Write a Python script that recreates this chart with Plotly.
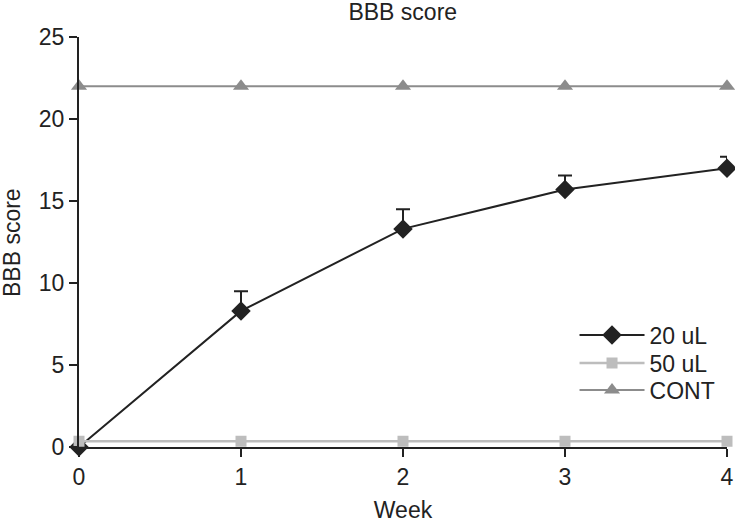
import plotly.graph_objs as go

# data
weeks = [0, 1, 2, 3, 4]
score_20ul = [0, 8.3, 13.3, 15.7, 17.0]
err_20ul = [0, 1.2, 1.2, 0.85, 0.7]
score_50ul = [0.35, 0.35, 0.35, 0.35, 0.35]
score_cont = [22, 22, 22, 22, 22]

FONT = 'Liberation Sans'
INK = '#222222'

trace_cont = go.Scatter(
    x=weeks, y=score_cont, mode='lines+markers', name='CONT', legend='legend3',
    line=dict(color='#8c8c8c', width=2),
    marker=dict(symbol='triangle-up', size=14, color='#8c8c8c'),
    cliponaxis=False,
)
trace_50 = go.Scatter(
    x=weeks, y=score_50ul, mode='lines+markers', name='50 uL', legend='legend2',
    line=dict(color='#bdbdbd', width=2.5),
    marker=dict(symbol='square', size=11, color='#bdbdbd'),
    cliponaxis=False,
)
trace_20 = go.Scatter(
    x=weeks, y=score_20ul, mode='lines+markers', name='20 uL', legend='legend',
    line=dict(color=INK, width=2),
    marker=dict(symbol='diamond', size=15, color=INK),
    error_y=dict(type='data', symmetric=False, array=err_20ul,
                 arrayminus=[0] * len(err_20ul),
                 color=INK, thickness=2, width=7),
    cliponaxis=False,
)


def legend_box(y):
    # one small legend per series so the rows sit as tight as in the picture
    return dict(x=0.7647, xanchor='left', y=y, yanchor='middle',
                font=dict(family=FONT, size=23, color=INK),
                bgcolor='rgba(0,0,0,0)', itemwidth=65)


layout = go.Layout(
    width=735, height=523,
    margin=dict(l=79, r=8, t=37, b=76),
    title=dict(text='BBB score', x=0.548, xanchor='center', y=0.977, yanchor='middle',
               font=dict(family=FONT, size=23, color=INK)),
    font=dict(family=FONT, size=23, color=INK),
    xaxis=dict(title=dict(text='Week', standoff=19, font=dict(size=23)),
               range=[0, 4], tickvals=weeks, showgrid=False, zeroline=False,
               showline=True, linecolor=INK, linewidth=2, automargin=False,
               ticks='outside', ticklen=8, tickwidth=2, tickcolor=INK),
    yaxis=dict(range=[0, 25], tickvals=[0, 5, 10, 15, 20, 25], showgrid=False,
               zeroline=False, showline=True, linecolor=INK, linewidth=2,
               automargin=False,
               ticks='outside', ticklen=8, tickwidth=2, tickcolor=INK),
    annotations=[dict(text='BBB score', textangle=-90, xref='paper', yref='paper',
                      x=-0.1034, y=0.5, xanchor='center', yanchor='middle',
                      showarrow=False, font=dict(family=FONT, size=23, color=INK))],
    legend=legend_box(0.273),
    legend2=legend_box(0.205),
    legend3=legend_box(0.139),
    showlegend=True,
    plot_bgcolor='white',
    paper_bgcolor='white',
)

fig = go.Figure(data=[trace_20, trace_50, trace_cont], layout=layout)
fig.write_html('out.html', config={'displayModeBar': False},
               post_script="document.body.style.margin='0';")
